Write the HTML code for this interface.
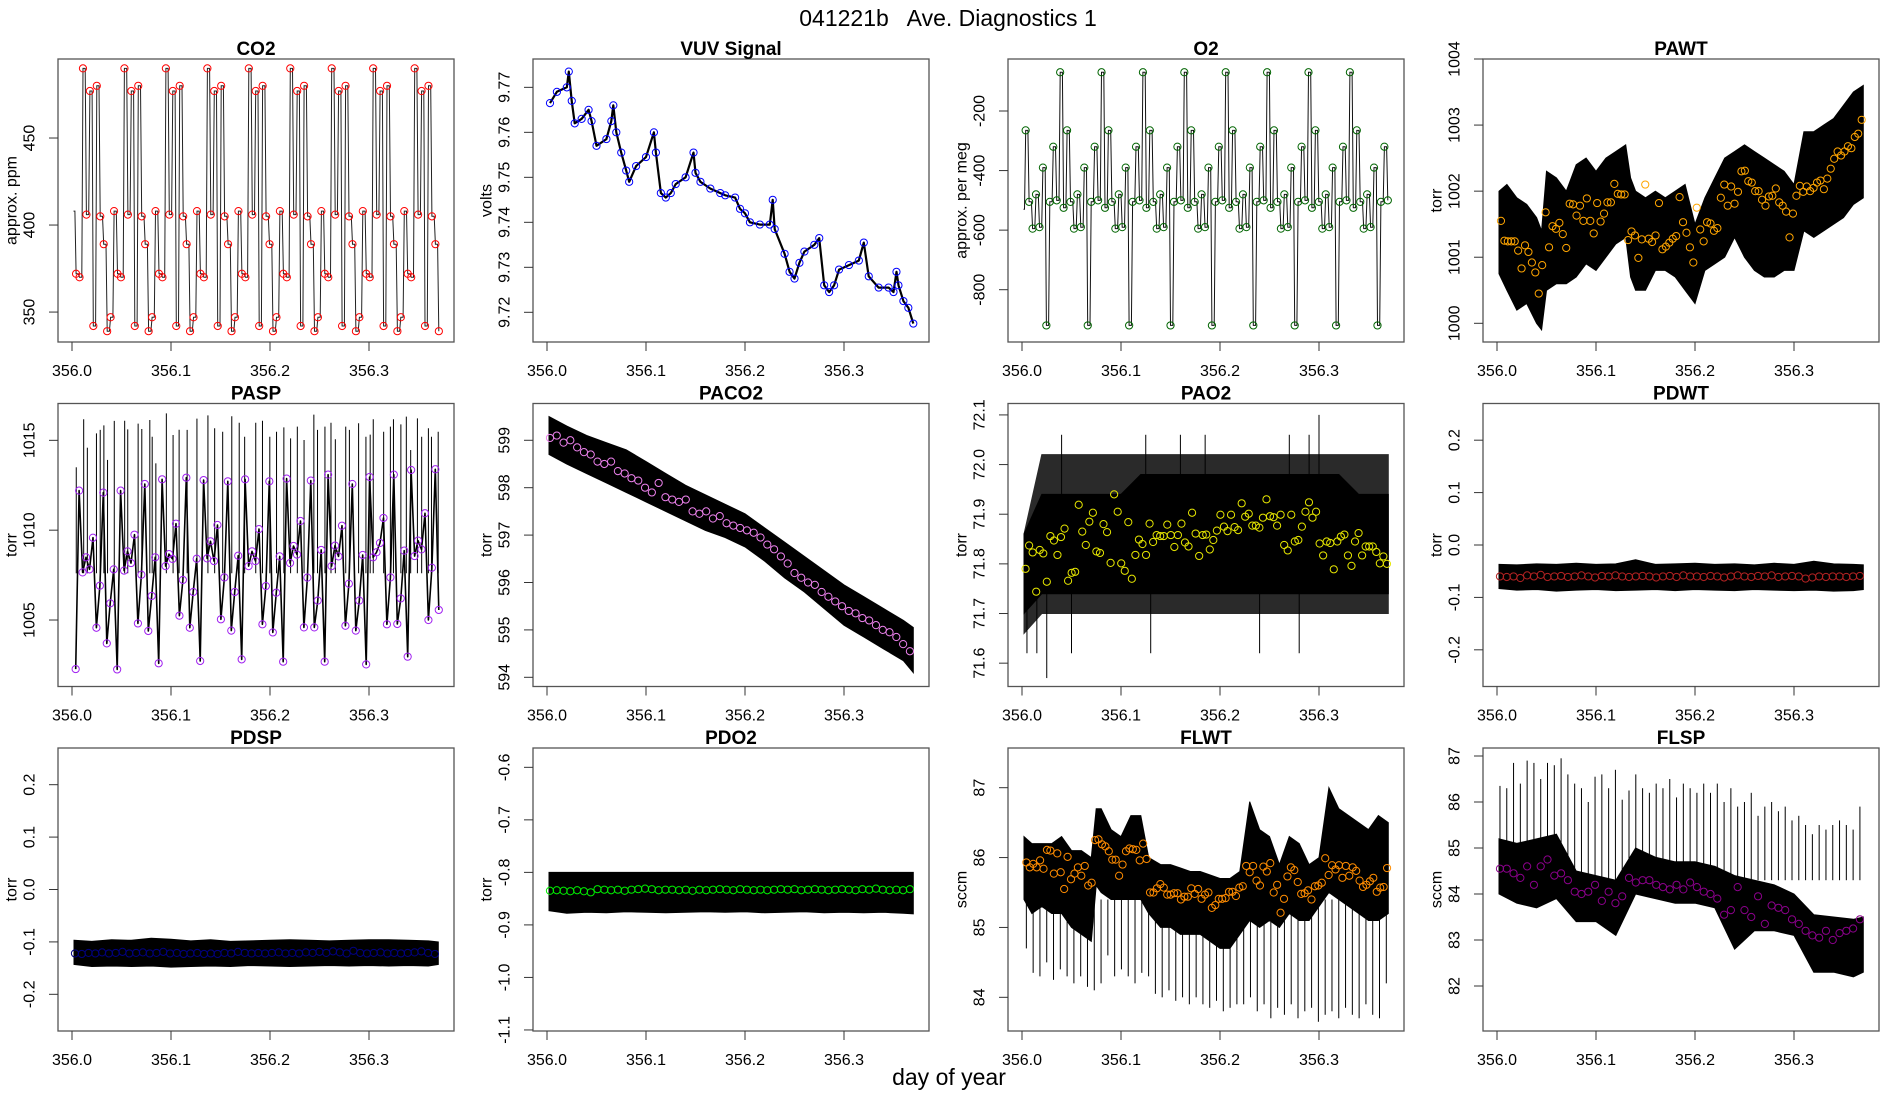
<!DOCTYPE html>
<html><head><meta charset="utf-8"><title>041221b Ave. Diagnostics 1</title>
<style>
html,body{margin:0;padding:0;background:#fff;}
svg{display:block;font-family:"Liberation Sans",Arial,sans-serif;}
</style></head>
<body>
<svg id="chart" width="1900" height="1100" viewBox="0 0 1900 1100" xmlns="http://www.w3.org/2000/svg">
<rect x="0" y="0" width="1900" height="1100" fill="#fff"/>
<text x="948" y="26" font-size="23" text-anchor="middle" style="white-space:pre" xml:space="preserve">041221b   Ave. Diagnostics 1</text>
<text x="949" y="1085" font-size="23" text-anchor="middle">day of year</text>
<g id="panels"></g>
</svg>
<script>
// ---------- data ----------
const xTickLabels = ["356.0","356.1","356.2","356.3"];
const xTickValues = [356.0,356.1,356.2,356.3];
const bandT = [356.002,356.02,356.04,356.06,356.08,356.1,356.12,356.14,356.16,356.18,356.2,356.22,356.24,356.26,356.28,356.3,356.32,356.34,356.36,356.37];

// CO2
const co2T0 = 356.0041, co2Dt = 0.00349;
const co2Values = [372,370,490,406,477,342,480,405,389,339,347,408,
372,370,490,406,477,342,480,405,389,339,347,408,
372,370,490,406,477,342,480,405,389,339,347,408,
372,370,490,406,477,342,480,405,389,339,347,408,
372,370,490,406,477,342,480,405,389,339,347,408,
372,370,490,406,477,342,480,405,389,339,347,408,
372,370,490,406,477,342,480,405,389,339,347,408,
372,370,490,406,477,342,480,405,389,339,347,408,
372,370,490,406,477,342,480,405,389,339];
const co2Ticks = [350,400,450];

// VUV
const vuvTimes = [356.003,356.01,356.02,356.022,356.025,356.028,356.035,356.042,356.045,356.05,356.06,356.065,356.067,356.07,356.075,356.08,356.083,356.09,356.1,356.108,356.11,356.115,356.12,356.125,356.13,356.14,356.148,356.15,356.155,356.165,356.175,356.18,356.19,356.195,356.2,356.205,356.215,356.225,356.228,356.23,356.24,356.245,356.25,356.255,356.26,356.27,356.275,356.28,356.285,356.29,356.295,356.305,356.315,356.32,356.325,356.335,356.345,356.35,356.353,356.355,356.36,356.365,356.37];
const vuvValues = [9.7665,9.769,9.770,9.7735,9.767,9.762,9.763,9.765,9.7625,9.757,9.7585,9.7625,9.766,9.760,9.7555,9.7515,9.749,9.7525,9.7545,9.760,9.7555,9.7465,9.7455,9.7465,9.7485,9.7500,9.7555,9.7510,9.7490,9.7475,9.7465,9.7460,9.7455,9.743,9.742,9.740,9.7395,9.7395,9.745,9.7385,9.733,9.729,9.7275,9.731,9.7335,9.735,9.7365,9.726,9.7245,9.726,9.7295,9.7305,9.7315,9.7355,9.728,9.7255,9.7255,9.7245,9.729,9.726,9.7225,9.721,9.7175];
const vuvTicks = [9.72,9.73,9.74,9.75,9.76,9.77];

// O2
const o2T0 = 356.0037, o2Dt = 0.003484;
const o2Values = [-265,-505,-595,-480,-590,-390,
-920,-505,-320,-500,-70,-525,-265,-505,-595,-480,-590,-390,
-920,-505,-320,-500,-70,-525,-265,-505,-595,-480,-590,-390,
-920,-505,-320,-500,-70,-525,-265,-505,-595,-480,-590,-390,
-920,-505,-320,-500,-70,-525,-265,-505,-595,-480,-590,-390,
-920,-505,-320,-500,-70,-525,-265,-505,-595,-480,-590,-390,
-920,-505,-320,-500,-70,-525,-265,-505,-595,-480,-590,-390,
-920,-505,-320,-500,-70,-525,-265,-505,-595,-480,-590,-390,
-920,-505,-320,-500,-70,-525,-265,-505,-595,-480,-590,-390,
-920,-505,-320,-500];
const o2Ticks = [-800,-600,-400,-200];

// PAWT
const pawtT0 = 356.004, pawtDt = 0.00347;
const pawtValues = [1001.55,1001.25,1001.24,1001.24,1001.24,1001.1,1000.83,1001.18,1001.08,1000.92,1000.77,1000.45,1000.88,1001.68,1001.15,1001.47,1001.43,1001.52,1001.35,1001.14,1001.81,1001.8,1001.63,1001.78,1001.55,1001.89,1001.55,1001.36,1001.82,1001.54,1001.66,1001.83,1001.83,1002.11,1001.96,1001.95,1001.95,1001.26,1001.39,1001.33,1000.99,1001.27,1002.1,1001.28,1001.23,1001.33,1001.82,1001.12,1001.16,1001.22,1001.28,1001.32,1001.91,1001.53,1001.37,1001.15,1000.92,1001.75,1001.42,1001.24,1001.53,1001.51,1001.4,1001.44,1001.9,1002.1,1001.78,1002.07,1001.81,1001.99,1002.3,1002.31,1002.15,1002.13,1002.0,1002.0,1001.87,1001.78,1001.92,1001.93,1002.04,1001.83,1001.78,1001.69,1001.3,1001.66,1001.93,1002.08,1001.99,1002.07,1002.0,1002.05,1002.13,1002.16,1002.03,1002.19,1002.34,1002.49,1002.6,1002.54,1002.6,1002.68,1002.65,1002.82,1002.87,1003.08];
const pawtBandT = [356.002,356.01,356.02,356.03,356.04,356.045,356.05,356.06,356.07,356.08,356.09,356.1,356.11,356.12,356.13,356.135,356.14,356.15,356.16,356.17,356.18,356.19,356.2,356.21,356.22,356.23,356.24,356.25,356.26,356.27,356.28,356.29,356.3,356.31,356.32,356.33,356.34,356.35,356.36,356.37];
const pawtUpper = [1002.0,1002.1,1001.9,1001.8,1001.6,1001.4,1002.3,1002.2,1002.0,1002.4,1002.5,1002.3,1002.5,1002.6,1002.7,1002.2,1002.0,1001.9,1002.0,1001.9,1002.0,1002.1,1001.5,1001.9,1002.2,1002.5,1002.6,1002.7,1002.6,1002.5,1002.4,1002.3,1002.1,1002.9,1002.9,1003.0,1003.1,1003.3,1003.5,1003.6];
const pawtLower = [1000.75,1000.5,1000.2,1000.3,1000.0,999.9,1000.5,1000.6,1000.6,1000.7,1000.9,1000.8,1001.0,1001.2,1001.3,1000.7,1000.5,1000.5,1000.8,1000.8,1000.7,1000.5,1000.3,1000.8,1000.9,1001.0,1001.3,1001.0,1000.8,1000.7,1000.7,1000.8,1000.8,1001.4,1001.3,1001.4,1001.5,1001.6,1001.8,1001.9];
const pawtTicks = [1000,1001,1002,1003,1004];

// PASP
const paspTFirst = 356.0037, paspTLast = 356.3705;
const paspValues = [1002.27,1012.2,1007.65,1008.49,1007.82,1009.58,1004.57,1006.91,1012.09,1003.7,1005.93,1007.82,1002.25,1012.2,1007.75,1008.82,1008.17,1009.75,1004.81,1007.52,1012.57,1004.39,1006.34,1008.49,1002.59,1012.83,1008.0,1008.67,1008.4,1010.36,1005.24,1007.23,1012.92,1004.57,1006.56,1008.41,1002.72,1012.79,1008.43,1009.38,1008.28,1010.29,1005.04,1007.37,1012.72,1004.41,1006.56,1008.58,1002.81,1012.83,1008.0,1008.82,1008.28,1010.06,1004.76,1006.89,1012.72,1004.31,1006.52,1008.54,1002.68,1012.87,1008.17,1009.12,1008.64,1010.51,1004.59,1007.36,1012.76,1004.59,1006.08,1008.9,1002.68,1013.09,1008.0,1009.14,1008.54,1010.25,1004.68,1007.02,1012.57,1004.41,1006.08,1008.62,1002.53,1012.96,1008.49,1008.77,1009.29,1010.68,1004.76,1007.37,1013.09,1004.78,1006.2,1008.86,1002.96,1013.35,1008.56,1009.42,1008.93,1010.94,1005.0,1007.91,1013.39,1005.56];
const paspSpikeT = [356.0043,356.0118,356.0155,356.0247,356.0285,356.0322,356.0359,356.0427,356.0532,356.0563,356.0668,356.0705,356.0786,356.081,356.0847,356.0953,356.1021,356.1082,356.1163,356.1262,356.1373,356.1441,356.1522,356.1614,356.1689,356.1744,356.1856,356.1924,356.1998,356.2066,356.214,356.2208,356.2276,356.2344,356.2443,356.248,356.2555,356.2616,356.266,356.2765,356.2802,356.2895,356.2969,356.3012,356.3043,356.3148,356.3216,356.3247,356.3322,356.3377,356.3421,356.3489,356.3532,356.36,356.3631,356.3699];
const paspSpikeTop = [1013.5,1016.17,1014.59,1015.39,1015.58,1015.83,1013.91,1016.08,1016.09,1015.61,1015.93,1015.63,1016.13,1015.2,1013.72,1016.5,1015.3,1015.59,1015.58,1016.21,1016.39,1015.67,1015.48,1016.34,1015.98,1015.2,1015.98,1016.09,1015.2,1015.48,1015.72,1015.11,1015.76,1015.02,1016.43,1015.58,1015.76,1015.98,1015.06,1015.76,1015.58,1015.95,1015.2,1015.32,1016.17,1015.48,1015.76,1016.17,1015.89,1016.32,1014.46,1016.22,1015.2,1015.67,1015.2,1015.48];
const paspSpikeBase = 1007.6;
const paspTicks = [1005,1010,1015];

// PACO2
const paco2T0 = 356.003, paco2Dt = 0.00686;
const paco2Values = [599.05,599.1,598.95,599.0,598.85,598.75,598.7,598.55,598.5,598.55,598.35,598.3,598.2,598.15,598.0,597.9,598.1,597.8,597.75,597.7,597.75,597.5,597.45,597.5,597.35,597.4,597.25,597.2,597.15,597.1,597.05,596.95,596.8,596.7,596.55,596.4,596.2,596.1,596.0,595.95,595.8,595.7,595.6,595.5,595.4,595.35,595.25,595.2,595.1,595.0,594.95,594.85,594.7,594.55];
const paco2Upper = [599.5,599.3,599.1,598.95,598.8,598.55,598.3,598.05,597.85,597.65,597.45,597.15,596.85,596.55,596.25,595.95,595.7,595.45,595.2,595.05];
const paco2Lower = [598.7,598.5,598.3,598.1,597.9,597.7,597.5,597.3,597.1,596.95,596.75,596.45,596.1,595.8,595.45,595.1,594.85,594.6,594.35,594.1];
const paco2Ticks = [594,595,596,597,598,599];

// PAO2
const pao2TFirst = 356.0036, pao2TLast = 356.3686;
const pao2Values = [71.79,71.837,71.823,71.744,71.828,71.821,71.764,71.856,71.847,71.818,71.854,71.871,71.766,71.782,71.784,71.919,71.865,71.838,71.885,71.903,71.825,71.822,71.88,71.864,71.802,71.94,71.905,71.801,71.786,71.884,71.77,71.818,71.849,71.840,71.818,71.881,71.844,71.858,71.856,71.856,71.879,71.858,71.834,71.858,71.881,71.843,71.835,71.903,71.861,71.816,71.858,71.859,71.829,71.848,71.867,71.899,71.875,71.866,71.899,71.874,71.868,71.922,71.895,71.901,71.877,71.877,71.873,71.893,71.930,71.896,71.894,71.877,71.899,71.838,71.827,71.899,71.845,71.848,71.875,71.905,71.924,71.893,71.905,71.841,71.817,71.845,71.842,71.789,71.845,71.855,71.859,71.817,71.796,71.845,71.862,71.817,71.835,71.835,71.835,71.824,71.801,71.815,71.800];
const pao2OuterUpper = [71.86,72.02,72.02,72.02,72.02,72.02,72.02,72.02,72.02,72.02,72.02,72.02,72.02,72.02,72.02,72.02,72.02,72.02,72.02,72.02];
const pao2OuterLower = [71.66,71.70,71.70,71.70,71.70,71.70,71.70,71.70,71.70,71.70,71.70,71.70,71.70,71.70,71.70,71.70,71.70,71.70,71.70,71.70];
const pao2InnerUpper = [71.86,71.94,71.94,71.94,71.94,71.94,71.98,71.98,71.98,71.98,71.98,71.98,71.98,71.98,71.98,71.98,71.98,71.94,71.94,71.94];
const pao2InnerLower = [71.70,71.74,71.74,71.74,71.74,71.74,71.74,71.74,71.74,71.74,71.74,71.74,71.74,71.74,71.74,71.74,71.74,71.74,71.74,71.74];
const pao2SpikeT = [356.005,356.015,356.025,356.04,356.05,356.125,356.13,356.16,356.185,356.24,356.27,356.28,356.29,356.3];
const pao2SpikeV = [71.62,71.62,71.57,72.06,71.62,72.06,71.62,72.06,72.06,71.62,72.06,71.62,72.06,72.1];
const pao2Ticks = [71.6,71.7,71.8,71.9,72.0,72.1];

// PDWT
const pdwtT0 = 356.003, pdwtDt = 0.00686;
const pdwtValues = [-0.06,-0.061,-0.06,-0.063,-0.058,-0.06,-0.057,-0.061,-0.06,-0.059,-0.061,-0.06,-0.058,-0.06,-0.062,-0.059,-0.06,-0.058,-0.06,-0.061,-0.06,-0.059,-0.06,-0.062,-0.06,-0.059,-0.061,-0.058,-0.06,-0.06,-0.061,-0.059,-0.06,-0.062,-0.06,-0.058,-0.06,-0.061,-0.059,-0.06,-0.058,-0.061,-0.06,-0.059,-0.06,-0.064,-0.062,-0.06,-0.061,-0.06,-0.06,-0.061,-0.06,-0.059];
const pdwtUpper = [-0.037,-0.038,-0.036,-0.037,-0.035,-0.037,-0.036,-0.028,-0.037,-0.036,-0.035,-0.037,-0.036,-0.038,-0.035,-0.037,-0.031,-0.036,-0.037,-0.038];
const pdwtLower = [-0.083,-0.086,-0.085,-0.088,-0.086,-0.085,-0.087,-0.086,-0.085,-0.087,-0.085,-0.086,-0.087,-0.085,-0.086,-0.087,-0.086,-0.088,-0.087,-0.085];
const pdwtTicks = [-0.2,-0.1,0.0,0.1,0.2];

// PDSP
const pdspT0 = 356.003, pdspDt = 0.00686;
const pdspValues = [-0.122,-0.123,-0.121,-0.122,-0.12,-0.122,-0.121,-0.119,-0.122,-0.121,-0.12,-0.122,-0.121,-0.119,-0.122,-0.121,-0.123,-0.122,-0.121,-0.123,-0.122,-0.123,-0.121,-0.122,-0.119,-0.121,-0.122,-0.121,-0.122,-0.121,-0.12,-0.122,-0.121,-0.122,-0.12,-0.121,-0.119,-0.121,-0.118,-0.12,-0.122,-0.117,-0.121,-0.122,-0.121,-0.12,-0.122,-0.121,-0.122,-0.121,-0.12,-0.118,-0.121,-0.123];
const pdspUpper = [-0.097,-0.099,-0.096,-0.097,-0.093,-0.095,-0.098,-0.096,-0.099,-0.098,-0.097,-0.096,-0.097,-0.098,-0.097,-0.096,-0.096,-0.097,-0.098,-0.1];
const pdspLower = [-0.143,-0.147,-0.146,-0.147,-0.146,-0.148,-0.147,-0.146,-0.147,-0.145,-0.146,-0.147,-0.146,-0.145,-0.146,-0.145,-0.146,-0.145,-0.146,-0.143];
const pdspTicks = [-0.2,-0.1,0.0,0.1,0.2];

// PDO2
const pdo2T0 = 356.003, pdo2Dt = 0.00686;
const pdo2Values = [-0.835,-0.834,-0.835,-0.836,-0.834,-0.836,-0.838,-0.832,-0.833,-0.834,-0.833,-0.835,-0.833,-0.832,-0.831,-0.832,-0.834,-0.833,-0.833,-0.834,-0.833,-0.835,-0.833,-0.834,-0.833,-0.832,-0.833,-0.834,-0.832,-0.833,-0.834,-0.833,-0.834,-0.833,-0.832,-0.833,-0.832,-0.834,-0.833,-0.832,-0.833,-0.834,-0.833,-0.832,-0.833,-0.834,-0.832,-0.833,-0.831,-0.833,-0.834,-0.833,-0.834,-0.832];
const pdo2Upper = [-0.8,-0.8,-0.8,-0.8,-0.8,-0.8,-0.8,-0.8,-0.8,-0.8,-0.8,-0.8,-0.8,-0.8,-0.8,-0.8,-0.8,-0.8,-0.8,-0.8];
const pdo2Lower = [-0.873,-0.878,-0.876,-0.877,-0.875,-0.876,-0.877,-0.876,-0.875,-0.876,-0.875,-0.877,-0.876,-0.875,-0.877,-0.876,-0.877,-0.876,-0.878,-0.879];
const pdo2Ticks = [-1.1,-1.0,-0.9,-0.8,-0.7,-0.6];

// FLWT
const flwtT0 = 356.0044, flwtDt = 0.00347;
const flwtValues = [85.93,85.86,85.91,85.86,85.96,85.84,86.11,86.1,85.77,86.06,85.79,85.55,86.01,85.69,85.77,85.86,85.74,85.88,85.6,85.64,86.25,86.26,86.19,86.16,86.09,85.97,85.97,85.74,85.9,86.09,86.13,86.12,86.11,85.96,86.2,85.98,85.5,85.5,85.56,85.62,85.57,85.47,85.47,85.49,85.49,85.4,85.44,85.44,85.56,85.48,85.55,85.41,85.47,85.5,85.28,85.32,85.41,85.41,85.42,85.51,85.51,85.45,85.57,85.59,85.88,85.79,85.88,85.67,85.6,85.87,85.8,85.92,85.5,85.61,85.21,85.41,85.73,85.86,85.82,85.65,85.48,85.49,85.53,85.4,85.59,85.6,85.64,85.99,85.75,85.89,85.83,85.89,85.71,85.88,85.74,85.86,85.81,85.67,85.58,85.61,85.66,85.71,85.51,85.57,85.58,85.85];
const flwtBandT = [356.002,356.01,356.02,356.03,356.04,356.05,356.06,356.07,356.075,356.08,356.09,356.1,356.11,356.12,356.128,356.14,356.15,356.16,356.17,356.18,356.19,356.2,356.21,356.22,356.23,356.24,356.25,356.26,356.27,356.28,356.29,356.3,356.31,356.32,356.33,356.34,356.35,356.36,356.37];
const flwtUpper = [86.3,86.2,86.2,86.2,86.3,86.1,86.1,86.0,86.7,86.7,86.4,86.3,86.6,86.6,86.0,85.9,85.9,85.85,85.8,85.8,85.75,85.7,85.7,85.8,86.8,86.4,86.3,85.9,86.3,86.2,85.9,86.0,87.0,86.7,86.6,86.5,86.4,86.6,86.5];
const flwtLower = [85.4,85.2,85.3,85.2,85.2,85.0,84.9,84.8,85.6,85.5,85.4,85.4,85.4,85.4,85.2,85.0,85.0,84.9,84.9,84.9,84.8,84.7,84.7,84.9,85.1,85.0,85.1,85.0,85.2,85.1,85.1,85.3,85.5,85.4,85.3,85.2,85.1,85.1,85.2];
const flwtSpikeT0 = 356.0044, flwtSpikeDt = 0.00686;
const flwtSpikeLow = [84.7,84.35,84.3,84.5,84.25,84.4,84.3,84.2,84.3,84.15,84.1,84.2,84.6,84.3,84.4,84.3,84.2,84.35,84.3,84.05,84.0,84.1,83.95,84.0,83.9,84.0,83.9,83.85,83.95,83.8,83.85,83.9,83.9,84.0,83.8,83.9,83.7,83.85,83.75,83.9,83.7,83.8,83.85,83.65,83.75,83.8,83.7,83.85,83.75,83.7,83.9,83.75,83.7,84.2];
const flwtTicks = [84,85,86,87];

// FLSP
const flspT0 = 356.003, flspDt = 0.00686;
const flspValues = [84.55,84.55,84.45,84.35,84.6,84.2,84.6,84.75,84.4,84.45,84.3,84.05,84.0,84.05,84.2,83.85,84.05,83.8,83.95,84.35,84.25,84.3,84.3,84.2,84.15,84.1,84.2,84.1,84.25,84.15,84.05,84.0,83.9,83.55,83.65,84.15,83.65,83.5,83.95,83.35,83.75,83.7,83.65,83.45,83.35,83.2,83.1,83.05,83.2,83.0,83.15,83.2,83.25,83.45];
const flspSpikeTop = [86.35,86.3,86.85,86.4,86.9,86.85,86.5,86.85,86.8,86.95,86.6,86.4,86.3,86.0,86.55,86.6,86.3,86.7,86.05,86.25,86.6,86.3,86.2,86.4,86.3,86.5,86.1,86.4,86.3,86.2,86.4,86.2,86.4,86.0,86.3,85.9,86.0,86.2,85.7,85.9,86.0,85.8,85.9,85.6,85.7,85.5,85.3,85.5,85.4,85.5,85.6,85.5,85.4,85.9];
const flspUpper = [85.2,85.1,85.2,85.3,84.5,84.4,84.3,85.0,84.8,84.7,84.7,84.6,84.4,84.3,84.2,84.0,83.55,83.5,83.45,83.5];
const flspLower = [84.0,83.8,83.7,83.9,83.4,83.4,83.1,84.0,83.9,83.8,83.8,83.7,82.8,83.2,83.2,83.1,82.3,82.3,82.2,82.3];
const flspTicks = [82,83,84,85,86,87];

// ---------- layout ----------
const NS = "http://www.w3.org/2000/svg";
const root = document.getElementById("panels");
const colLeft = [58, 533, 1008, 1483];
const rowTop = [59, 403.5, 748];
const PW = 396, PH = 283;

function mk(tag, attrs, parent) {
  const e = document.createElementNS(NS, tag);
  for (const k in attrs) e.setAttribute(k, attrs[k]);
  parent.appendChild(e);
  return e;
}
function sx(p, d) { return p.left + 14 + (d - 356) * 990; }
function sy(p, v) { return p.top + (p.ymax - v) / (p.ymax - p.ymin) * PH; }

function panel(key, title, ylab, col, row, ymin, ymax, ticks, fmt) {
  const p = { key, left: colLeft[col], top: rowTop[row], ymin, ymax };
  const g = mk("g", {}, root);
  
  
  p.g = g;
  const marks = mk("g", {}, g);
  
  
  p.marks = marks;
  p.title = title; p.ylab = ylab; p.ticks = ticks; p.fmt = fmt;
  return p;
}

function finishPanel(p) {
  const g = p.g, L = p.left, T = p.top, B = T + PH;
  const box = mk("rect", { x: L, y: T, width: PW, height: PH, fill: "none", stroke: "#555", "stroke-width": 1.3 }, g);
  
  
  const t = mk("text", { x: L + PW / 2, y: T - 4, "font-size": 19, "font-weight": "bold", "text-anchor": "middle" }, g);
  t.textContent = p.title;
  
  
  xTickValues.forEach((v, i) => {
    const x = sx(p, v);
    const tk = mk("line", { x1: x, y1: B, x2: x, y2: B + 9, stroke: "#333", "stroke-width": 1 }, g);
    
    
    const lb = mk("text", { x: x, y: B + 34, "font-size": 16, "text-anchor": "middle" }, g);
    lb.textContent = xTickLabels[i];
    
    
  });
  p.ticks.forEach(v => {
    const y = sy(p, v);
    const tk = mk("line", { x1: L - 9, y1: y, x2: L, y2: y, stroke: "#333", "stroke-width": 1 }, g);
    
    
    const lb = mk("text", { transform: "translate(" + (L - 28) + "," + y + ") rotate(-90)", "font-size": 16, "text-anchor": "middle", "dominant-baseline": "central" }, g);
    lb.textContent = p.fmt(v);
    
    
  });
  const yl = mk("text", { transform: "translate(" + (L - 46) + "," + (T + PH / 2) + ") rotate(-90)", "font-size": 16, "text-anchor": "middle", "dominant-baseline": "central" }, g);
  yl.textContent = p.ylab;
  
  
}

function seqTimes(t0, dt, n) { const a = []; for (let i = 0; i < n; i++) a.push(t0 + i * dt); return a; }
function spanTimes(a, b, n) { const r = []; for (let i = 0; i < n; i++) r.push(a + (b - a) * i / (n - 1)); return r; }

function band(p, T, up, lo, fill) {
  let d = "";
  T.forEach((t, i) => { d += (i ? "L" : "M") + sx(p, t).toFixed(1) + "," + sy(p, up[i]).toFixed(1); });
  for (let i = T.length - 1; i >= 0; i--) d += "L" + sx(p, T[i]).toFixed(1) + "," + sy(p, lo[i]).toFixed(1);
  const e = mk("path", { d: d + "Z", fill: fill, stroke: fill, "stroke-width": 1 }, p.marks);
  
  
}
function line(p, T, V, w, color) {
  const pts = T.map((t, i) => sx(p, t).toFixed(1) + "," + sy(p, V[i]).toFixed(1)).join(" ");
  const e = mk("polyline", { points: pts, fill: "none", stroke: color || "#000", "stroke-width": w, "stroke-linejoin": "round" }, p.marks);
  
  
}
// raw-data trace: holds each level, then jumps near-vertically to the next
function stepLine(p, T, V, w, color) {
  let pts = [];
  T.forEach((t, i) => {
    const x = sx(p, t), y = sy(p, V[i]);
    if (i > 0) pts.push((x - 1.2).toFixed(1) + "," + sy(p, V[i - 1]).toFixed(1));
    pts.push(x.toFixed(1) + "," + y.toFixed(1));
  });
  const e = mk("polyline", { points: pts.join(" "), fill: "none", stroke: color || "#000", "stroke-width": w }, p.marks);
  
  
}
function spikes(p, T, from, to) {
  T.forEach((t, i) => {
    const a = Array.isArray(from) ? from[i] : from;
    const e = mk("line", { x1: sx(p, t), y1: sy(p, a), x2: sx(p, t), y2: sy(p, to[i]), stroke: "#000", "stroke-width": 1 }, p.marks);
    
    
  });
}
function circles(p, T, V, color) {
  T.forEach((t, i) => {
    const c = mk("circle", { cx: sx(p, t), cy: sy(p, V[i]), r: 3.6, fill: "none", stroke: color, "stroke-width": 1 }, p.marks);
    
    
  });
}
const f0 = v => String(v);
const f1 = v => v.toFixed(1);
const f2 = v => v.toFixed(2);

// ---------- row 1 ----------
let P = panel("co2", "CO2", "approx. ppm", 0, 0, 332.8, 495.4, co2Ticks, f0);
let tt = seqTimes(co2T0, co2Dt, co2Values.length);
stepLine(P, [356.0015].concat(tt), [408].concat(co2Values), 1, "#222");
circles(P, tt, co2Values, "#ff0000");
finishPanel(P);

P = panel("vuv", "VUV Signal", "volts", 1, 0, 9.7134, 9.7763, vuvTicks, f2);
line(P, vuvTimes, vuvValues, 2.2, "#000");
circles(P, vuvTimes, vuvValues, "#0000ff");
finishPanel(P);

P = panel("o2", "O2", "approx. per meg", 2, 0, -975.6, -25.4, o2Ticks, f0);
tt = seqTimes(o2T0, o2Dt, o2Values.length);
stepLine(P, [356.0015].concat(tt), [-530].concat(o2Values), 1, "#111");
circles(P, tt, o2Values, "#006400");
finishPanel(P);

P = panel("pawt", "PAWT", "torr", 3, 0, 999.717, 1004.0, pawtTicks, f0);
band(P, pawtBandT, pawtUpper, pawtLower, "#000");
circles(P, seqTimes(pawtT0, pawtDt, pawtValues.length), pawtValues, "#ffa500");
finishPanel(P);

// ---------- row 2 ----------
P = panel("pasp", "PASP", "torr", 0, 1, 1001.30, 1017.05, paspTicks, f0);
tt = spanTimes(paspTFirst, paspTLast, paspValues.length);
spikes(P, paspSpikeT, paspSpikeBase, paspSpikeTop);
line(P, tt, paspValues, 1.6, "#000");
circles(P, tt, paspValues, "#a020f0");
finishPanel(P);

P = panel("paco2", "PACO2", "torr", 1, 1, 593.806, 599.776, paco2Ticks, f0);
band(P, bandT, paco2Upper, paco2Lower, "#000");
circles(P, seqTimes(paco2T0, paco2Dt, paco2Values.length), paco2Values, "#ee82ee");
finishPanel(P);

P = panel("pao2", "PAO2", "torr", 2, 1, 71.553, 72.123, pao2Ticks, f1);
band(P, bandT, pao2OuterUpper, pao2OuterLower, "#2a2a2a");
band(P, bandT, pao2InnerUpper, pao2InnerLower, "#000");
spikes(P, pao2SpikeT, 71.82, pao2SpikeV);
circles(P, spanTimes(pao2TFirst, pao2TLast, pao2Values.length), pao2Values, "#e6e600");
finishPanel(P);

P = panel("pdwt", "PDWT", "torr", 3, 1, -0.27, 0.27, pdwtTicks, f1);
band(P, bandT, pdwtUpper, pdwtLower, "#000");
circles(P, seqTimes(pdwtT0, pdwtDt, pdwtValues.length), pdwtValues, "#b22222");
finishPanel(P);

// ---------- row 3 ----------
P = panel("pdsp", "PDSP", "torr", 0, 2, -0.27, 0.27, pdspTicks, f1);
band(P, bandT, pdspUpper, pdspLower, "#000");
circles(P, seqTimes(pdspT0, pdspDt, pdspValues.length), pdspValues, "#000080");
finishPanel(P);

P = panel("pdo2", "PDO2", "torr", 1, 2, -1.102, -0.5632, pdo2Ticks, f1);
band(P, bandT, pdo2Upper, pdo2Lower, "#000");
circles(P, seqTimes(pdo2T0, pdo2Dt, pdo2Values.length), pdo2Values, "#00ee00");
finishPanel(P);

P = panel("flwt", "FLWT", "sccm", 2, 2, 83.518, 87.568, flwtTicks, f0);
spikes(P, seqTimes(flwtSpikeT0, flwtSpikeDt, flwtSpikeLow.length), 85.4, flwtSpikeLow);
band(P, flwtBandT, flwtUpper, flwtLower, "#000");
circles(P, seqTimes(flwtT0, flwtDt, flwtValues.length), flwtValues, "#ff8c00");
finishPanel(P);

P = panel("flsp", "FLSP", "sccm", 3, 2, 81.022, 87.174, flspTicks, f0);
spikes(P, seqTimes(flspT0, flspDt, flspSpikeTop.length), 84.3, flspSpikeTop);
band(P, bandT, flspUpper, flspLower, "#000");
circles(P, seqTimes(flspT0, flspDt, flspValues.length), flspValues, "#8b008b");
finishPanel(P);
</script>
</body></html>
